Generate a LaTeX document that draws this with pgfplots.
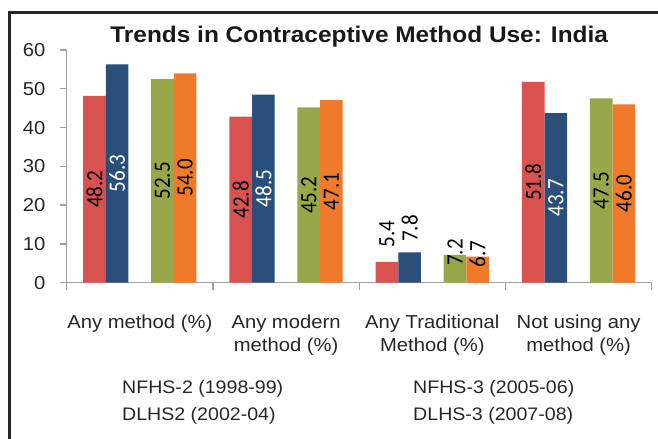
\documentclass[border=0pt]{standalone}
\usepackage{pgfplots}
\pgfplotsset{compat=1.18}
\usepackage{pgfplotstable}
\usepackage{fontspec}
\setmainfont{Liberation Sans}[FakeStretch=1.08]
\newfontfamily\labfont{Carlito}[FakeStretch=0.9]
\definecolor{cred}{HTML}{D8534F}
\definecolor{cblue}{HTML}{2A4F7A}
\definecolor{cgreen}{HTML}{97A84A}
\definecolor{corange}{HTML}{EF7A2A}
\definecolor{axgray}{HTML}{A0A0A0}

% bar values: x = category centre
\pgfplotstableread{
x nfhs2 nfhs3 dlhs2 dlhs3
0.5 48.2 56.3 52.5 54.0
1.5 42.8 48.5 45.2 47.1
2.5 5.4 7.8 7.2 6.7
3.5 51.8 43.7 47.5 46.0
}\data
% data labels: lx = label x, pos = label y, v = text
\pgfplotstableread{
lx pos v
0.19 24.1 48.2
1.19 21.4 42.8
2.19 12.6 5.4
3.19 25.9 51.8
2.345 14.0 7.8
0.655 26.25 52.5
1.655 22.6 45.2
2.655 7.8 7.2
3.655 23.75 47.5
0.81 27.0 54.0
1.81 23.55 47.1
2.81 7.4 6.7
3.81 23.0 46.0
}\labblack
\pgfplotstableread{
lx pos v
0.345 28.15 56.3
1.345 24.25 48.5
3.345 21.85 43.7
}\labwhite

\pgfplotsset{
  mybar/.style={ybar, bar width=0.155, draw=none, legend image code/.code={}},
  barlab/.style={draw=none, mark=none, forget plot, nodes near coords,
    point meta=explicit symbolic,
    every node near coord/.style={rotate=90, anchor=center, inner sep=0pt,
      font=\labfont\fontsize{23.5}{26}\selectfont, text=#1}},
}

\begin{document}
\begin{tikzpicture}
\begin{axis}[
  scale only axis, width=585bp, height=232.7bp,
  xmin=0, xmax=4, ymin=0, ymax=60,
  axis x line*=bottom, axis y line*=left,
  axis line style={draw=axgray, line width=1.3bp},
  tick style={draw=axgray, line width=1.3bp},
  tick align=outside, major tick length=7bp,
  ytick={0,10,...,60},
  xtick={0,1,2,3,4}, xticklabels={},
  extra x ticks={0.5,1.5,2.5,3.5},
  extra x tick labels={Any method (\%), {Any modern\\method (\%)}, {Any Traditional\\Method (\%)}, {Not using any\\method (\%)}},
  extra x tick style={major tick length=0pt},
  tick label style={font=\fontsize{18.8}{23.5}\selectfont, text=black!85},
  xticklabel style={align=center, anchor=north, inner sep=0pt, yshift=-32bp},
  yticklabel style={anchor=east, inner sep=0pt, xshift=-14bp},
  /pgf/number format/assume math mode=true,
  title={Trends in Contraceptive Method Use: India},
  title style={font=\bfseries\fontsize{22.7}{27}\selectfont, at={(0.5,1)}, anchor=base, yshift=1.5bp, inner sep=0pt, text=black!90},
  legend columns=2,
  legend cell align=left,
  legend style={draw=none, fill=none, at={(0.0945,-0.418)}, anchor=north west,
    inner sep=0pt, row sep=10bp,
    font=\fontsize{18.2}{21}\selectfont, text=black!85,
    nodes={inner sep=0pt, text height=13bp, text depth=4bp},
    /tikz/every even column/.append style={column sep=130bp}},
  clip=false,
]
\addplot[mybar, bar shift=-0.31, fill=cred] table[x=x, y=nfhs2] {\data};
\addlegendentry{NFHS-2 (1998-99)}
\addplot[mybar, bar shift=-0.155, fill=cblue] table[x=x, y=nfhs3] {\data};
\addlegendentry{NFHS-3 (2005-06)}
\addplot[mybar, bar shift=0.155, fill=cgreen] table[x=x, y=dlhs2] {\data};
\addlegendentry{DLHS2 (2002-04)}
\addplot[mybar, bar shift=0.31, fill=corange] table[x=x, y=dlhs3] {\data};
\addlegendentry{DLHS-3 (2007-08)}

\addplot[barlab=black] table[x=lx, y=pos, meta=v] {\labblack};
\addplot[barlab=white] table[x=lx, y=pos, meta=v] {\labwhite};
\end{axis}
\draw[line width=2.2bp, black!85] (-57.2bp,-160bp) -- (-57.2bp,270.2bp) -- (595bp,270.2bp);
\pgfresetboundingbox
\path[use as bounding box] (-66.7bp,-156.3bp) rectangle (591.3bp,282.7bp);
\end{tikzpicture}
\end{document}
